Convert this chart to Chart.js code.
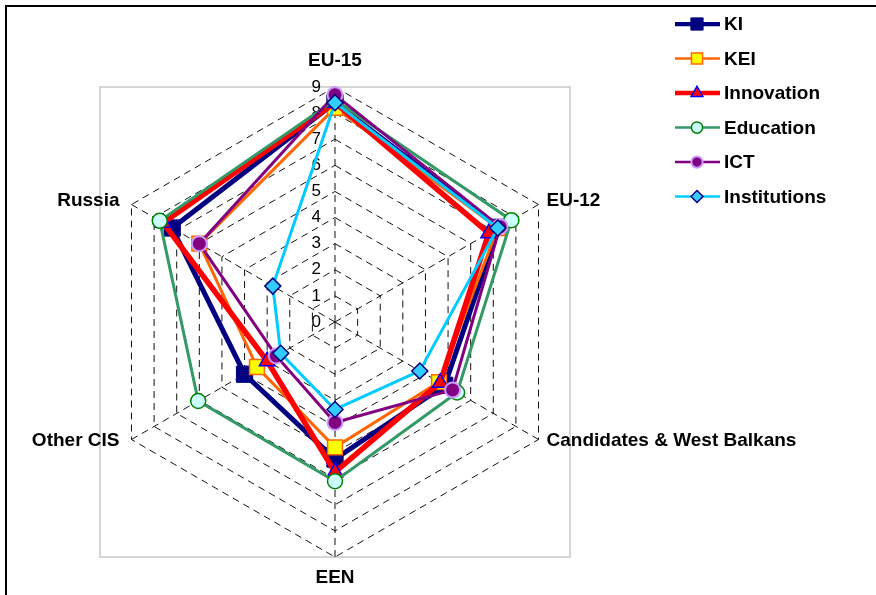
<!DOCTYPE html>
<html lang="en">
<head>
  <meta charset="UTF-8" />
  <title>Knowledge indices radar</title>
  <script src="https://cdn.jsdelivr.net/npm/chart.js"></script>
  <style>
    html, body { margin: 0; padding: 0; background: #fff; }
    #wrap { position: relative; width: 876px; height: 595px; overflow: hidden; }
    #frame {
      position: absolute; left: 5px; top: 5px; right: -10px; bottom: -10px;
      border-top: 2px solid #000; border-left: 2px solid #000; pointer-events: none;
    }
  </style>
</head>
<body>
  <div id="wrap">
    <canvas id="radar" width="876" height="595"></canvas>
    <div id="frame"></div>
  </div>

  <script>
    // regions on the spokes, clockwise from the top
    const regions = ['EU-15', 'EU-12', 'Candidates & West Balkans', 'EEN', 'Other CIS', 'Russia'];

    // index values (0..9 scale)
    const ki           = [8.4, 7.25, 4.85, 5.25, 4.0, 7.2];
    const kei          = [8.2, 7.2, 4.6, 4.8, 3.45, 6.0];
    const innovation   = [8.4, 6.8, 4.65, 5.75, 3.0, 7.6];
    const education    = [8.5, 7.8, 5.4, 6.1, 6.05, 7.75];
    const ict          = [8.7, 7.3, 5.2, 3.85, 2.6, 6.0];
    const institutions = [8.4, 7.2, 3.75, 3.35, 2.4, 2.75];

    const scaleMin = 0;
    const scaleMax = 9;
    const scaleStep = 1;

    const FONT = 'Arial, "Liberation Sans", sans-serif';

    // gray plot frame, tick numbers, spoke labels and the legend
    const excelLook = {
      id: 'excelLook',
      beforeDraw(chart) {
        const { ctx, chartArea: a } = chart;
        ctx.save();
        ctx.strokeStyle = '#c8c8c8';
        ctx.lineWidth = 1.5;
        ctx.strokeRect(a.left, a.top, a.right - a.left, a.bottom - a.top);
        ctx.restore();
      },
      beforeDatasetsDraw(chart) {
        const r = chart.scales.r;
        const ctx = chart.ctx;
        ctx.save();
        ctx.fillStyle = '#000';
        ctx.font = '17px ' + FONT;
        ctx.textAlign = 'right';
        ctx.textBaseline = 'middle';
        r.ticks.forEach(t => {
          const d = r.getDistanceFromCenterForValue(t.value);
          ctx.fillText(t.label, r.xCenter - 14, r.yCenter - d);
        });
        ctx.restore();
      },
      afterDraw(chart) {
        const r = chart.scales.r;
        const ctx = chart.ctx;
        ctx.save();
        ctx.fillStyle = '#000';
        ctx.font = 'bold 19px ' + FONT;
        ctx.textBaseline = 'middle';
        chart.data.labels.forEach((lab, i) => {
          const p = r.getPointPosition(i, r.drawingArea);
          const c = Math.cos(p.angle), s = Math.sin(p.angle);
          if (c > 0.1) {
            ctx.textAlign = 'left';
            ctx.fillText(lab, p.x + 8, p.y + (s < 0 ? -4 : 1));
          } else if (c < -0.1) {
            ctx.textAlign = 'right';
            ctx.fillText(lab, p.x - 12, p.y + (s < 0 ? -4 : 1));
          } else {
            ctx.textAlign = 'center';
            ctx.fillText(lab, p.x, p.y + (s < 0 ? -26 : 21));
          }
        });

        // legend: line with marker, then name
        const drawPoint = Chart.helpers.drawPoint;
        ctx.textAlign = 'left';
        chart.data.datasets.forEach((ds, i) => {
          const y = 24 + i * 34.5;
          ctx.strokeStyle = ds.borderColor;
          ctx.lineWidth = ds.borderWidth * 0.85;
          ctx.setLineDash([]);
          ctx.beginPath();
          ctx.moveTo(675, y);
          ctx.lineTo(720, y);
          ctx.stroke();
          ctx.fillStyle = ds.pointBackgroundColor;
          ctx.strokeStyle = ds.pointBorderColor;
          ctx.lineWidth = ds.pointBorderWidth;
          drawPoint(ctx, {
            pointStyle: ds.pointStyle,
            radius: ds.pointRadius * 0.75,
            rotation: 0,
            borderWidth: ds.pointBorderWidth
          }, 697, y);
          ctx.fillStyle = '#000';
          ctx.fillText(ds.label, 724, y + 1);
        });
        ctx.restore();
      }
    };

    const series = [
      { label: 'KI', data: ki, borderColor: '#000080', borderWidth: 5,
        pointStyle: 'rect', pointRadius: 11.5, pointBackgroundColor: '#000080',
        pointBorderColor: '#000080', pointBorderWidth: 1 },
      { label: 'KEI', data: kei, borderColor: '#FF6600', borderWidth: 3,
        pointStyle: 'rect', pointRadius: 10.5, pointBackgroundColor: '#FFFF00',
        pointBorderColor: '#FF6600', pointBorderWidth: 1.5 },
      { label: 'Innovation', data: innovation, borderColor: '#FF0000', borderWidth: 5.5,
        pointStyle: 'triangle', pointRadius: 9, pointBackgroundColor: '#FF0000',
        pointBorderColor: '#0000FF', pointBorderWidth: 1.5 },
      { label: 'Education', data: education, borderColor: '#339966', borderWidth: 3,
        pointStyle: 'circle', pointRadius: 7.5, pointBackgroundColor: '#CCFFFF',
        pointBorderColor: '#008000', pointBorderWidth: 1.5 },
      { label: 'ICT', data: ict, borderColor: '#800080', borderWidth: 3,
        pointStyle: 'circle', pointRadius: 7.5, pointBackgroundColor: '#800080',
        pointBorderColor: '#CC99FF', pointBorderWidth: 2 },
      { label: 'Institutions', data: institutions, borderColor: '#00CCFF', borderWidth: 3,
        pointStyle: 'rectRot', pointRadius: 8, pointBackgroundColor: '#33CCFF',
        pointBorderColor: '#000080', pointBorderWidth: 1.5 }
    ];

    new Chart(document.getElementById('radar'), {
      type: 'radar',
      data: {
        labels: regions,
        // later series sit on top, as in the original
        datasets: series.map((s, i) => Object.assign({ fill: false, tension: 0, order: series.length - i }, s))
      },
      options: {
        responsive: false,
        animation: false,
        events: [],
        layout: { padding: { left: 100, right: 306, top: 87, bottom: 38 } },
        plugins: { legend: { display: false }, tooltip: { enabled: false } },
        scales: {
          r: {
            min: scaleMin,
            max: scaleMax,
            ticks: { display: false, stepSize: scaleStep },
            pointLabels: { display: false },
            grid: { color: '#111', lineWidth: 1, borderDash: [7, 5] },
            border: { dash: [7, 5] },
            angleLines: { color: '#111', lineWidth: 1, borderDash: [7, 5] }
          }
        }
      },
      plugins: [excelLook]
    });
  </script>
</body>
</html>
